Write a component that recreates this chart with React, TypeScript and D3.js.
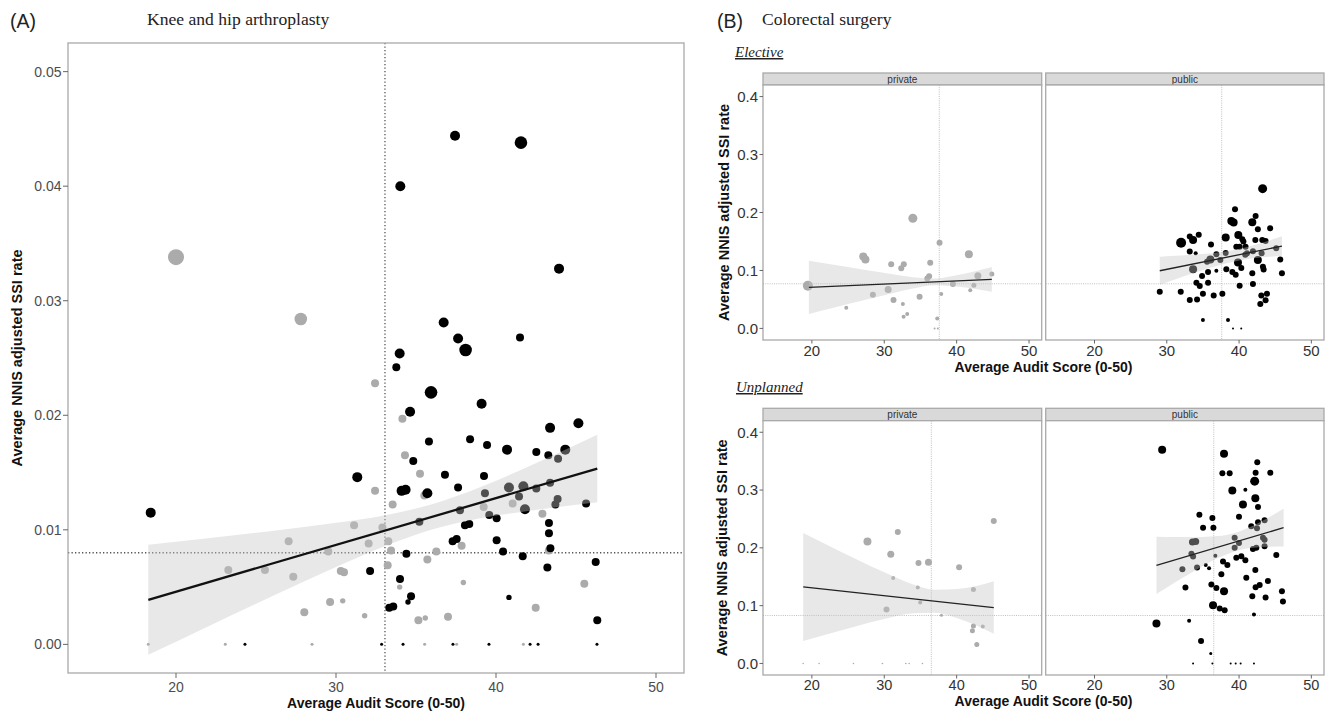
import React from 'react';
import * as d3 from 'd3';

type Pt = [number, number, number]; // audit score, NNIS adjusted SSI rate, volume class
type Band = [number, number, number]; // audit score, lower CI, upper CI
type Fit = [number, number][];

const auditLimits = [15, 50];
const auditTicks = [20, 30, 40, 50];
const kneeHipRateLimits = [0, 0.05];
const kneeHipRateTicks = [0, 0.01, 0.02, 0.03, 0.04, 0.05];
const colorectalRateLimits = [0, 0.4];
const colorectalRateTicks = [0, 0.1, 0.2, 0.3, 0.4];
const facetLabels = ['private', 'public'];

// ---------- (A) Knee and hip arthroplasty ----------
const kneeHipPrivate: Pt[] = [
  [20.0, 0.0338, 6], [27.8, 0.0284, 5], [32.44, 0.0228, 3], [34.15, 0.0197, 3], [34.31, 0.0165, 3],
  [35.25, 0.0149, 3], [32.44, 0.0134, 3], [35.52, 0.013, 3], [41.04, 0.0123, 3], [42.9, 0.0114, 3],
  [33.54, 0.0122, 3], [39.23, 0.012, 3], [43.3, 0.0082, 3], [37.85, 0.0086, 3], [33.27, 0.009, 3],
  [33.44, 0.0082, 3], [32.9, 0.0102, 3], [32.04, 0.0088, 3], [31.13, 0.0104, 3], [36.27, 0.0081, 3],
  [35.71, 0.0074, 3], [33.23, 0.0069, 3], [30.3, 0.0064, 3], [30.5, 0.0063, 3], [37.96, 0.0054, 2],
  [33.98, 0.005, 2], [45.52, 0.0053, 3], [42.48, 0.0032, 3], [31.79, 0.0025, 2], [35.15, 0.0021, 3],
  [35.58, 0.0023, 2], [37.0, 0.0024, 3], [27.04, 0.009, 3], [29.52, 0.0081, 3], [23.27, 0.0065, 3],
  [25.56, 0.0065, 3], [27.33, 0.0059, 3], [28.02, 0.0028, 3], [29.63, 0.0037, 3], [30.42, 0.0038, 2],
  [18.27, 0, 1], [23.08, 0, 1], [28.5, 0, 1], [35.54, 0, 1], [37.54, 0, 1], [41.71, 0, 1],
];
const kneeHipPublic: Pt[] = [
  [37.44, 0.0444, 4], [41.56, 0.0438, 5], [34.02, 0.04, 4], [43.94, 0.0328, 4], [36.73, 0.0281, 4],
  [37.63, 0.0267, 4], [38.1, 0.0257, 5], [41.5, 0.0268, 3], [33.98, 0.0254, 4], [33.77, 0.0242, 3],
  [35.94, 0.022, 5], [39.1, 0.021, 4], [34.63, 0.0203, 4], [43.38, 0.0189, 4], [45.15, 0.0193, 4],
  [35.81, 0.0177, 3], [38.38, 0.0179, 3], [39.44, 0.0174, 3], [40.69, 0.017, 4], [42.52, 0.0168, 3],
  [43.27, 0.0165, 3], [44.33, 0.017, 4], [43.88, 0.0162, 3], [34.83, 0.016, 3], [36.81, 0.0148, 3],
  [39.25, 0.0147, 3], [31.33, 0.0146, 4], [34.1, 0.0134, 4], [34.35, 0.0135, 4], [35.71, 0.0132, 4],
  [37.63, 0.0137, 3], [39.31, 0.0132, 3], [40.81, 0.0137, 4], [41.71, 0.0138, 4], [41.44, 0.0129, 3],
  [42.52, 0.0136, 3], [43.38, 0.0141, 3], [41.81, 0.0118, 4], [43.71, 0.0122, 3], [43.85, 0.0127, 3],
  [45.63, 0.0123, 3], [35.21, 0.0107, 3], [37.75, 0.0117, 3], [39.58, 0.0113, 3], [40.04, 0.011, 3],
  [38.06, 0.0104, 3], [38.33, 0.0105, 3], [43.31, 0.0106, 3], [43.31, 0.0097, 3], [43.4, 0.0084, 3],
  [40.04, 0.0091, 3], [37.29, 0.009, 3], [37.54, 0.0092, 3], [34.4, 0.0079, 3], [40.44, 0.0081, 3],
  [41.67, 0.0077, 3], [46.23, 0.0072, 3], [43.21, 0.0067, 3], [32.13, 0.0064, 3], [34.0, 0.0057, 3],
  [34.69, 0.0042, 3], [34.5, 0.0037, 2], [33.33, 0.0032, 3], [33.58, 0.0033, 3], [40.81, 0.0041, 2],
  [46.33, 0.0021, 3], [18.42, 0.0115, 4],
  [24.31, 0, 1], [32.85, 0, 1], [34.19, 0, 1], [37.31, 0, 1], [39.56, 0, 1], [42.13, 0, 1], [42.63, 0, 1], [46.31, 0, 1],
];
const kneeHipFit: Fit = [[18.27, 0.00389], [46.33, 0.01535]];
const kneeHipBand: Band[] = [
  [18.27, -0.00091, 0.00869], [22, 0.00156, 0.00926], [26, 0.0042, 0.0099], [30, 0.00675, 0.01061],
  [33, 0.00855, 0.01125], [36, 0.01003, 0.01223], [39, 0.01101, 0.01371], [42, 0.01165, 0.01551],
  [46.33, 0.01241, 0.01829],
];
const kneeHipReference = [33.06, 0.008];

// ---------- (B) Colorectal surgery: Elective ----------
const electivePrivate: Pt[] = [
  [19.45, 0.0736, 5], [24.75, 0.0356, 2], [27.1, 0.124, 4], [27.4, 0.119, 4], [28.43, 0.058, 3],
  [30.54, 0.0673, 3.5], [30.96, 0.1105, 3], [31.28, 0.0489, 3], [32.35, 0.1036, 3], [32.7, 0.1105, 3],
  [32.57, 0.042, 2], [32.67, 0.02, 2], [33.17, 0.0247, 2], [33.95, 0.19, 4.5], [34.88, 0.0546, 3],
  [35.95, 0.086, 3], [36.2, 0.09, 3], [36.35, 0.1133, 3], [37.64, 0.148, 3], [37.87, 0.0592, 2],
  [37.32, 0.0172, 2], [36.95, 0, 1], [37.4, 0, 1], [39.48, 0.0765, 3], [41.69, 0.128, 4],
  [41.88, 0.066, 2], [42.38, 0.0743, 2.5], [42.93, 0.091, 3.5], [44.86, 0.0938, 2.5],
];
const electivePublic: Pt[] = [
  [43.26, 0.2411, 4.5], [39.44, 0.2055, 3], [42.29, 0.194, 3], [38.93, 0.1853, 4], [39.25, 0.1829, 4],
  [41.83, 0.183, 4], [42.6, 0.171, 3], [44.3, 0.1727, 3], [39.9, 0.161, 4], [40.45, 0.154, 3],
  [40.6, 0.15, 3], [38.15, 0.157, 4], [33.18, 0.1585, 3], [33.64, 0.1525, 4], [34.42, 0.1618, 3],
  [31.98, 0.1479, 5], [36.12, 0.1447, 3], [42.25, 0.1525, 3], [43.21, 0.1525, 3], [43.67, 0.151, 3],
  [39.62, 0.141, 3], [40.08, 0.141, 3], [40.9, 0.141, 3], [41.1, 0.1295, 3], [33.18, 0.1329, 3],
  [34.0, 0.1295, 2], [36.86, 0.128, 3], [38.15, 0.13, 3], [36.03, 0.119, 4], [35.57, 0.115, 3],
  [37.41, 0.118, 3], [40.86, 0.127, 3], [41.92, 0.133, 3], [43.12, 0.1295, 3], [45.14, 0.1381, 3],
  [42.6, 0.118, 4], [39.85, 0.1139, 4], [40.31, 0.1044, 3], [45.7, 0.119, 3], [43.3, 0.1062, 3],
  [43.4, 0.1016, 3], [33.64, 0.1019, 4], [35.71, 0.0973, 3], [34.88, 0.0904, 3], [36.86, 0.0996, 2],
  [38.24, 0.1019, 3], [39.07, 0.0973, 3], [39.53, 0.0927, 3], [41.83, 0.095, 3], [34.1, 0.0788, 3],
  [34.56, 0.0731, 3], [35.71, 0.0788, 3], [40.08, 0.0737, 3], [41.92, 0.0765, 3], [45.93, 0.095, 3],
  [29.03, 0.0633, 3], [31.93, 0.0633, 3], [33.18, 0.0489, 3], [34.19, 0.05, 3], [35.0, 0.0599, 3],
  [36.49, 0.057, 3], [37.69, 0.0599, 3], [43.08, 0.057, 3], [43.86, 0.0599, 3], [43.67, 0.0484, 3],
  [42.94, 0.042, 3], [35.0, 0.0143, 2], [38.47, 0.0143, 2], [39.16, 0, 1], [40.3, 0, 1],
];
const electivePrivateFit: Fit = [[19.59, 0.0708], [44.86, 0.0846]];
const electivePrivateBand: Band[] = [
  [19.59, 0.0248, 0.1168], [23, 0.0355, 0.1098], [27, 0.048, 0.1017], [31, 0.0603, 0.0938],
  [34, 0.0689, 0.0884], [37, 0.0745, 0.0861], [40, 0.0722, 0.0917], [44.86, 0.0632, 0.106],
];
const electivePublicFit: Fit = [[29.03, 0.0995], [45.93, 0.1421]];
const electivePublicBand: Band[] = [
  [29.03, 0.0753, 0.1237], [32, 0.0883, 0.1257], [35, 0.1008, 0.1283], [38, 0.1116, 0.1326],
  [39.5, 0.1159, 0.1359], [41, 0.1192, 0.1402], [43, 0.1223, 0.1471], [45.93, 0.1253, 0.1589],
];
const electiveReference = [37.6, 0.077];

// ---------- (B) Colorectal surgery: Unplanned ----------
const unplannedPrivate: Pt[] = [
  [27.68, 0.2112, 4], [31.87, 0.2273, 3], [30.9, 0.1888, 3.5], [31.23, 0.1479, 2], [34.73, 0.1738, 3],
  [36.11, 0.175, 3.5], [34.63, 0.1312, 2], [34.96, 0.1053, 2], [30.31, 0.0932, 3], [37.9, 0.0834, 1.5],
  [40.34, 0.1663, 3], [42.32, 0.1278, 2.5], [42.32, 0.0649, 2.5], [42.18, 0.0564, 2.5], [43.61, 0.064, 2],
  [42.78, 0.0328, 2.5], [45.13, 0.2463, 3],
  [18.8, 0, 0.8], [21.0, 0, 0.8], [25.75, 0, 0.8], [29.75, 0, 0.8], [32.98, 0, 0.8], [33.44, 0, 0.8], [35.28, 0, 0.8],
];
const unplannedPublic: Pt[] = [
  [29.36, 0.3696, 4], [37.92, 0.3627, 4], [37.69, 0.3292, 3], [38.7, 0.3292, 3], [42.52, 0.3482, 3],
  [42.29, 0.33, 3], [44.32, 0.33, 3], [42.16, 0.3154, 4.5], [39.07, 0.2993, 4], [40.87, 0.3005, 2],
  [42.25, 0.286, 4], [40.54, 0.2751, 4], [42.62, 0.2705, 3], [34.51, 0.2573, 3], [36.31, 0.2515, 3],
  [39.99, 0.2538, 3], [35.02, 0.2349, 3], [36.45, 0.2349, 3], [41.69, 0.2372, 3], [42.62, 0.2441, 3],
  [43.53, 0.2476, 3], [42.48, 0.234, 3], [39.39, 0.2176, 3], [39.99, 0.2084, 3], [43.31, 0.2176, 3],
  [43.53, 0.214, 3], [33.55, 0.21, 3.5], [34.0, 0.211, 3.5], [33.41, 0.19, 3], [39.39, 0.2, 3],
  [33.64, 0.185, 3], [36.72, 0.1865, 2], [41.92, 0.1982, 3], [42.39, 0.2, 3], [43.53, 0.2028, 3],
  [39.62, 0.183, 3], [40.31, 0.1853, 3], [40.87, 0.1785, 3], [45.15, 0.1878, 3], [32.16, 0.1629, 3],
  [34.19, 0.1658, 3], [35.39, 0.1705, 2], [35.85, 0.1647, 2], [37.78, 0.1762, 3], [38.38, 0.1705, 3],
  [37.55, 0.1542, 3], [42.25, 0.1618, 3], [41.0, 0.1481, 3], [43.99, 0.1427, 3], [32.58, 0.1313, 3],
  [36.17, 0.1365, 3], [36.86, 0.1306, 3], [37.92, 0.1249, 4], [42.29, 0.1319, 3], [42.85, 0.1358, 3],
  [41.83, 0.1163, 3], [43.67, 0.114, 3], [45.93, 0.1249, 3], [46.07, 0.1071, 3], [36.4, 0.1007, 4],
  [37.32, 0.0949, 3], [38.01, 0.092, 3], [42.06, 0.0846, 2], [28.57, 0.0691, 4], [33.09, 0.0737, 2],
  [34.74, 0.039, 3], [36.08, 0.0173, 1.5],
  [33.64, 0, 1], [36.31, 0, 1], [38.84, 0, 1], [39.53, 0, 1], [40.22, 0, 1], [42.06, 0, 1],
];
const unplannedPrivateFit: Fit = [[18.8, 0.1323], [45.13, 0.0967]];
const unplannedPrivateBand: Band[] = [
  [18.8, 0.0387, 0.2259], [22, 0.05, 0.2059], [26, 0.0638, 0.1813], [30, 0.0767, 0.1576],
  [34, 0.0867, 0.1368], [37, 0.0877, 0.1277], [40, 0.0786, 0.1287], [45.13, 0.0512, 0.1422],
];
const unplannedPublicFit: Fit = [[28.57, 0.1698], [46.16, 0.2349]];
const unplannedPublicBand: Band[] = [
  [28.57, 0.1203, 0.2193], [31, 0.139, 0.2186], [34, 0.1614, 0.2184], [37, 0.1818, 0.2203],
  [39.5, 0.1943, 0.2263], [42, 0.2003, 0.2388], [44, 0.2018, 0.252], [46.16, 0.2022, 0.2676],
];
const unplannedReference = [36.5, 0.083];

// ---------- styling ----------
const SANS = '"Liberation Sans", Arial, Helvetica, sans-serif';
const SERIF = '"Liberation Serif", "Times New Roman", Times, serif';
const PRIVATE_COLOR = '#ababab';
const PUBLIC_COLOR = '#000000';
const BORDER = '#a9a9a9';

const expand = (d: number[]) => {
  const r = d[1] - d[0];
  return [d[0] - 0.05 * r, d[1] + 0.05 * r];
};

const radiusA = d3.scaleLinear().domain([1, 2, 3, 4, 5, 6]).range([1.5, 2.7, 4, 5, 6.3, 8]);
const radiusB = d3.scaleLinear().domain([0, 5]).range([0, 5]);

type Box = { left: number; right: number; top: number; bottom: number };

interface PanelProps {
  id: string;
  box: Box;
  yLimits: number[];
  layers: { pts: Pt[]; color: string }[];
  band: Band[];
  fit: Fit;
  reference: number[];
  radius: (v: number) => number;
  refStyle: { stroke: string; dash: string; width: number };
  fitStyle: { stroke: string; width: number };
}

function Panel({ id, box, yLimits, layers, band, fit, reference, radius, refStyle, fitStyle }: PanelProps) {
  const x = d3.scaleLinear().domain(expand(auditLimits)).range([box.left, box.right]);
  const y = d3.scaleLinear().domain(expand(yLimits)).range([box.bottom, box.top]);
  const area = d3
    .area<Band>()
    .x((d) => x(d[0]))
    .y0((d) => y(d[1]))
    .y1((d) => y(d[2]))
    .curve(d3.curveMonotoneX);
  const line = d3
    .line<[number, number]>()
    .x((d) => x(d[0]))
    .y((d) => y(d[1]));
  return (
    <g>
      <defs>
        <clipPath id={id}>
          <rect x={box.left} y={box.top} width={box.right - box.left} height={box.bottom - box.top} />
        </clipPath>
      </defs>
      <rect x={box.left} y={box.top} width={box.right - box.left} height={box.bottom - box.top} fill="#fff" />
      <g clipPath={`url(#${id})`}>
        <line
          x1={x(reference[0])} x2={x(reference[0])} y1={box.top} y2={box.bottom}
          stroke={refStyle.stroke} strokeDasharray={refStyle.dash} strokeWidth={refStyle.width}
        />
        <line
          x1={box.left} x2={box.right} y1={y(reference[1])} y2={y(reference[1])}
          stroke={refStyle.stroke} strokeDasharray={refStyle.dash} strokeWidth={refStyle.width}
        />
        {layers.map((layer, li) =>
          layer.pts.map((p, i) => (
            <circle key={`${li}-${i}`} cx={x(p[0])} cy={y(p[1])} r={radius(p[2])} fill={layer.color} />
          ))
        )}
        <path d={area(band) || ''} fill="#c6c6c6" fillOpacity={0.4} />
        <path d={line(fit) || ''} fill="none" stroke={fitStyle.stroke} strokeWidth={fitStyle.width} />
      </g>
      <rect
        x={box.left} y={box.top} width={box.right - box.left} height={box.bottom - box.top}
        fill="none" stroke={BORDER} strokeWidth={1.3}
      />
    </g>
  );
}

function XAxis({ box, labelColor, fontSize, labelOffset, tick }: { box: Box; labelColor: string; fontSize: number; labelOffset: number; tick: number }) {
  const x = d3.scaleLinear().domain(expand(auditLimits)).range([box.left, box.right]);
  return (
    <g>
      {auditTicks.map((t) => (
        <g key={t}>
          <line x1={x(t)} x2={x(t)} y1={box.bottom} y2={box.bottom + tick} stroke="#666" strokeWidth={1} />
          <text x={x(t)} y={box.bottom + labelOffset} textAnchor="middle" fontFamily={SANS} fontSize={fontSize} fill={labelColor}>
            {t}
          </text>
        </g>
      ))}
    </g>
  );
}

function YAxis({ box, limits, ticks, fmt, labelColor, fontSize, tick }: { box: Box; limits: number[]; ticks: number[]; fmt: string; labelColor: string; fontSize: number; tick: number }) {
  const y = d3.scaleLinear().domain(expand(limits)).range([box.bottom, box.top]);
  const f = d3.format(fmt);
  return (
    <g>
      {ticks.map((t) => (
        <g key={t}>
          <line x1={box.left - tick} x2={box.left} y1={y(t)} y2={y(t)} stroke="#666" strokeWidth={1} />
          <text x={box.left - tick - 1.5} y={y(t)} dy="0.35em" textAnchor="end" fontFamily={SANS} fontSize={fontSize} fill={labelColor}>
            {f(t)}
          </text>
        </g>
      ))}
    </g>
  );
}

function Strip({ box, top, label }: { box: Box; top: number; label: string }) {
  return (
    <g>
      <rect x={box.left} y={top} width={box.right - box.left} height={box.top - top} fill="#d9d9d9" stroke={BORDER} strokeWidth={1.3} />
      <text x={(box.left + box.right) / 2} y={(top + box.top) / 2} dy="0.35em" textAnchor="middle" fontFamily={SANS} fontSize={10} fill="#333">
        {label}
      </text>
    </g>
  );
}

export default function App() {
  const boxA: Box = { left: 68, right: 684, top: 43, bottom: 673 };
  const ePriv: Box = { left: 763, right: 1041.7, top: 85, bottom: 340 };
  const ePub: Box = { left: 1045.7, right: 1324, top: 85, bottom: 340 };
  const uPriv: Box = { left: 763, right: 1041.7, top: 420.7, bottom: 675 };
  const uPub: Box = { left: 1045.7, right: 1324, top: 420.7, bottom: 675 };

  const refA = { stroke: '#555', dash: '1.3 2.2', width: 1.3 };
  const refB = { stroke: '#b8b8b8', dash: '1 1.2', width: 0.9 };
  const fitA = { stroke: '#111', width: 2.3 };
  const fitB = { stroke: '#222', width: 1.3 };

  const yTitle = 'Average NNIS adjusted SSI rate';
  const xTitle = 'Average Audit Score (0-50)';

  return (
    <svg width={1326} height={715} viewBox="0 0 1326 715" style={{ position: 'absolute', left: 0, top: 0, background: '#fff' }}>
      <rect x={0} y={0} width={1326} height={715} fill="#fff" />

      {/* Panel A */}
      <text x={10} y={28} fontFamily={SANS} fontSize={19.5} fill="#222">(A)</text>
      <text x={147} y={25} fontFamily={SERIF} fontSize={17.6} fill="#222">Knee and hip arthroplasty</text>
      <Panel
        id="clipA" box={boxA} yLimits={kneeHipRateLimits}
        layers={[{ pts: kneeHipPrivate, color: PRIVATE_COLOR }, { pts: kneeHipPublic, color: PUBLIC_COLOR }]}
        band={kneeHipBand} fit={kneeHipFit} reference={kneeHipReference}
        radius={radiusA} refStyle={refA} fitStyle={fitA}
      />
      <YAxis box={boxA} limits={kneeHipRateLimits} ticks={kneeHipRateTicks} fmt=".2f" labelColor="#4d4d4d" fontSize={14} tick={5} />
      <XAxis box={boxA} labelColor="#4d4d4d" fontSize={14} labelOffset={18.5} tick={5} />
      <text x={(boxA.left + boxA.right) / 2} y={708} textAnchor="middle" fontFamily={SANS} fontWeight="bold" fontSize={14} fill="#111">
        {xTitle}
      </text>
      <text
        transform={`translate(22,${(boxA.top + boxA.bottom) / 2}) rotate(-90)`}
        textAnchor="middle" fontFamily={SANS} fontWeight="bold" fontSize={14.5} fill="#111"
      >
        {yTitle}
      </text>

      {/* Panel B */}
      <text x={717} y={28} fontFamily={SANS} fontSize={19.5} fill="#222">(B)</text>
      <text x={762} y={25} fontFamily={SERIF} fontSize={17.5} fill="#222">Colorectal surgery</text>

      <text x={735} y={57} fontFamily={SERIF} fontStyle="italic" fontSize={15} fill="#222" textDecoration="underline">Elective</text>
      <Strip box={ePriv} top={73} label={facetLabels[0]} />
      <Strip box={ePub} top={73} label={facetLabels[1]} />
      <Panel
        id="clipEPriv" box={ePriv} yLimits={colorectalRateLimits}
        layers={[{ pts: electivePrivate, color: PRIVATE_COLOR }]}
        band={electivePrivateBand} fit={electivePrivateFit} reference={electiveReference}
        radius={radiusB} refStyle={refB} fitStyle={fitB}
      />
      <Panel
        id="clipEPub" box={ePub} yLimits={colorectalRateLimits}
        layers={[{ pts: electivePublic, color: PUBLIC_COLOR }]}
        band={electivePublicBand} fit={electivePublicFit} reference={electiveReference}
        radius={radiusB} refStyle={refB} fitStyle={fitB}
      />
      <YAxis box={ePriv} limits={colorectalRateLimits} ticks={colorectalRateTicks} fmt=".1f" labelColor="#333" fontSize={15} tick={3.5} />
      <XAxis box={ePriv} labelColor="#333" fontSize={15} labelOffset={15.5} tick={3.5} />
      <XAxis box={ePub} labelColor="#333" fontSize={15} labelOffset={15.5} tick={3.5} />
      <text x={(ePriv.left + ePub.right) / 2} y={372} textAnchor="middle" fontFamily={SANS} fontWeight="bold" fontSize={14} fill="#111">
        {xTitle}
      </text>
      <text
        transform={`translate(729,${(ePriv.top + ePriv.bottom) / 2}) rotate(-90)`}
        textAnchor="middle" fontFamily={SANS} fontWeight="bold" fontSize={14.5} fill="#111"
      >
        {yTitle}
      </text>

      <text x={736} y={392} fontFamily={SERIF} fontStyle="italic" fontSize={15} fill="#222" textDecoration="underline">Unplanned</text>
      <Strip box={uPriv} top={408.3} label={facetLabels[0]} />
      <Strip box={uPub} top={408.3} label={facetLabels[1]} />
      <Panel
        id="clipUPriv" box={uPriv} yLimits={colorectalRateLimits}
        layers={[{ pts: unplannedPrivate, color: PRIVATE_COLOR }]}
        band={unplannedPrivateBand} fit={unplannedPrivateFit} reference={unplannedReference}
        radius={radiusB} refStyle={refB} fitStyle={fitB}
      />
      <Panel
        id="clipUPub" box={uPub} yLimits={colorectalRateLimits}
        layers={[{ pts: unplannedPublic, color: PUBLIC_COLOR }]}
        band={unplannedPublicBand} fit={unplannedPublicFit} reference={unplannedReference}
        radius={radiusB} refStyle={refB} fitStyle={fitB}
      />
      <YAxis box={uPriv} limits={colorectalRateLimits} ticks={colorectalRateTicks} fmt=".1f" labelColor="#333" fontSize={15} tick={3.5} />
      <XAxis box={uPriv} labelColor="#333" fontSize={14.5} labelOffset={14.5} tick={3.5} />
      <XAxis box={uPub} labelColor="#333" fontSize={14.5} labelOffset={14.5} tick={3.5} />
      <text x={(uPriv.left + uPub.right) / 2} y={706} textAnchor="middle" fontFamily={SANS} fontWeight="bold" fontSize={14} fill="#111">
        {xTitle}
      </text>
      <text
        transform={`translate(727,${(uPriv.top + uPriv.bottom) / 2}) rotate(-90)`}
        textAnchor="middle" fontFamily={SANS} fontWeight="bold" fontSize={14.5} fill="#111"
      >
        {yTitle}
      </text>
    </svg>
  );
}
